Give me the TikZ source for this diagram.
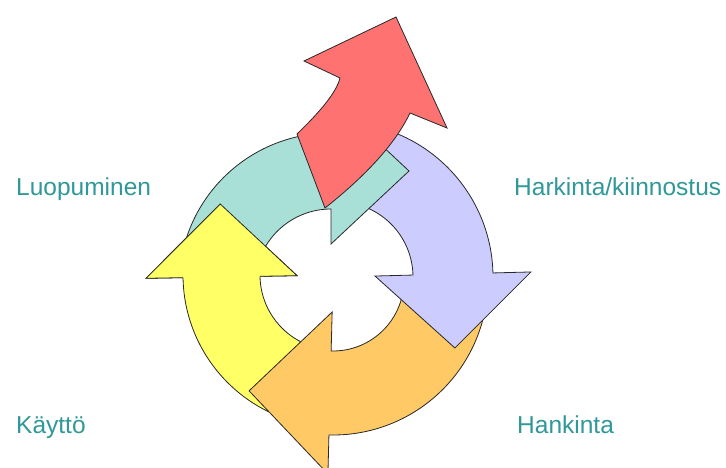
\documentclass[tikz,border=0pt]{standalone}
\usepackage{fontspec}
\setmainfont{Liberation Sans}
\usetikzlibrary{calc}
\definecolor{txtteal}{RGB}{48,152,152}
\definecolor{fteal}{RGB}{168,224,216}
\definecolor{fred}{RGB}{255,114,114}
\definecolor{fpurple}{RGB}{204,204,255}
\definecolor{forange}{RGB}{255,201,102}
\definecolor{fyellow}{RGB}{255,255,102}
\definecolor{edgecol}{RGB}{40,40,40}
% #1 centre, #2 inner r, #3 outer r, #4 tail angle, #5 head angle, #6 head overhang, #7 head length, #8 fill
\newcommand\ringarrow[8]{%
 \filldraw[outline,fill=#8] ($(#1)+({#4}:{#3})$) arc[start angle={#4}, end angle={#5}, radius={#3}]
   -- ($(#1)+({#5}:{#3+#6})$)
   -- ($(#1)+({#5}:{(#2+#3)/2})+({#5+90}:{#7})$)
   -- ($(#1)+({#5}:{#2-#6})$)
   -- ($(#1)+({#5}:{#2})$)
   arc[start angle={#5}, end angle={#4}, radius={#2}] -- cycle;}
% head overlay: #1 centre, #2 ri, #3 ro, #4 head angle, #5 overhang, #6 length, #7 fill
\newcommand\ringhead[7]{%
 \fill[#7] ($(#1)+({#4}:{#3})$) -- ($(#1)+({#4}:{#3+#5})$)
   -- ($(#1)+({#4}:{(#2+#3)/2})+({#4+90}:{#6})$)
   -- ($(#1)+({#4}:{#2-#5})$) -- ($(#1)+({#4}:{#2})$)
   -- ($(#1)+({#4-5}:{(#2+#3)/2})$) -- cycle;
 \draw[outline] ($(#1)+({#4}:{#3})$) -- ($(#1)+({#4}:{#3+#5})$)
   -- ($(#1)+({#4}:{(#2+#3)/2})+({#4+90}:{#6})$)
   -- ($(#1)+({#4}:{#2-#5})$) -- ($(#1)+({#4}:{#2})$);}
\begin{document}
\begin{tikzpicture}[x=1pt,y=-1pt,
  outline/.style={draw=edgecol,line width=0.8pt,line join=miter},
  lbl/.style={inner sep=0pt,anchor=base west,text=txtteal,font=\fontsize{24.5}{29}\selectfont}]
\useasboundingbox (0,0) rectangle (726,467);
\fill[white] (0,0) rectangle (726,467);
\coordinate (cY) at (335,275);
\coordinate (cO) at (333,280);
\coordinate (cP) at (338,277);
\coordinate (cT) at (331,285);
% yellow (full, tail under orange head)
\ringarrow{cY}{75}{152}{105}{179}{37}{73}{fyellow}
% orange
\ringarrow{cO}{71}{155}{10}{91.5}{39}{81}{forange}
% purple
\ringarrow{cP}{75}{155}{-80}{-1.5}{38}{74}{fpurple}
% teal
\ringarrow{cT}{76}{152}{192}{270}{35}{78}{fteal}
% red
\coordinate (r1) at (297,134);
\coordinate (r2) at (340,78);
\coordinate (r3) at (304,61);
\coordinate (r4) at (396,17);
\coordinate (r5) at (447,128);
\coordinate (r6) at (410,113);
\coordinate (r7) at (325,208);
\filldraw[outline,fill=fred] (r1) .. controls (322.3,109.7) and (336.7,91.3) .. (r2)
  -- (r3) -- (r4) -- (r5) -- (r6) .. controls (395.7,142.9) and (367.3,174.5) .. (r7) -- cycle;
% yellow head on top of teal tail
\ringhead{cY}{75}{152}{179}{37}{73}{fyellow}
% labels
\node[lbl] (luo) at (16,195) {Luopuminen};
\node[lbl] (har) at (514,195) {Harkinta/kiinnostus};
\node[lbl] (kay) at (16,433) {Käyttö};
\node[lbl] (han) at (517,433) {Hankinta};
\end{tikzpicture}
\end{document}
